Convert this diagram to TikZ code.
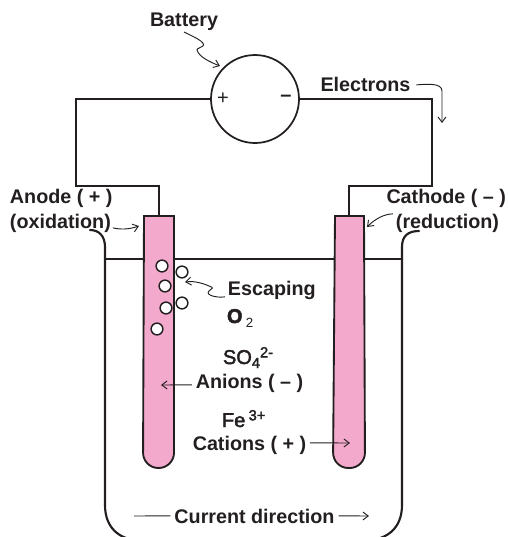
\documentclass[tikz,border=0pt]{standalone}
\usepackage{fontspec}
\setmainfont{Liberation Sans}
\newfontfamily\semib[FakeBold=2.2]{Liberation Sans}
\usetikzlibrary{arrows.meta}
\definecolor{rodpink}{HTML}{F3A9CB}
\definecolor{ink}{HTML}{231F20}
\tikzset{
  wire/.style={draw=ink,line width=1.6pt,line join=miter},
  rod/.style={draw=ink,line width=1.4pt,fill=rodpink},
  lab/.style={inner sep=0pt,outer sep=0pt,yshift=-1.4pt,text=ink,font=\bfseries\fontsize{14.8}{16}\selectfont},
  chem/.style={inner sep=0pt,outer sep=0pt,text=ink,font=\semib\fontsize{15}{16}\selectfont},
  pointer/.style={draw=ink,line width=0.7pt,-{Straight Barb[length=4pt,width=6pt,line width=0.7pt]}},
  plainline/.style={draw=ink,line width=0.7pt},
  bubble/.style={circle,draw=ink,line width=1.1pt,fill=white,minimum size=8.8pt,inner sep=0pt},
}
\begin{document}
\begin{tikzpicture}[x=0.75pt,y=-0.75pt]
\useasboundingbox (0,0) rectangle (508,537);
\clip (0,0) rectangle (508,537);
% water line and beaker
\coordinate (wl) at (105,259);
\coordinate (wr) at (402,259);
\draw[wire] (wl) -- (wr);
\draw[wire,line cap=round] (90,230) .. controls (99,230) and (105,236) .. (105,247)
  -- (105,505) .. controls (105,524) and (115,537) .. (134,540)
  -- (372,540) .. controls (392,537) and (402,524) .. (402,505)
  -- (402,247) .. controls (402,236) and (408,231) .. (419,231);
% electrodes
\coordinate (atop) at (159,216);
\coordinate (ctop) at (349,216);
\draw[rod] (144,216) [rounded corners=11.5pt] -- (143,468) -- (174,468) [sharp corners] -- (174,216) -- cycle;
\draw[rod] (335,216) [rounded corners=11.5pt] -- (333,468) -- (365,468) [sharp corners] -- (364,216) -- cycle;
% battery
\node[circle,draw=ink,line width=1.3pt,minimum size=66pt,inner sep=0pt] (bat) at (255,99) {};
\node[inner sep=0pt,text=ink,font=\fontsize{15}{16}\selectfont] (plus) at (223,99) {+};
\node[inner sep=0pt,text=ink,font=\bfseries\fontsize{15}{16}\selectfont] (minus) at (286,98) {–};
% wires
\coordinate (w1) at (76,99);
\coordinate (w2) at (76,186);
\coordinate (w3) at (159,186);
\coordinate (w4) at (432,99);
\coordinate (w5) at (432,186);
\coordinate (w6) at (349,186);
\draw[wire] (bat.west) -- (w1) -- (w2) -- (w3) -- (atop);
\draw[wire] (bat.east) -- (w4) -- (w5) -- (w6) -- (ctop);
% bubbles
\node[bubble] at (162,266) {};
\node[bubble] at (165,286) {};
\node[bubble] at (166,308) {};
\node[bubble] at (157,329) {};
\node[bubble] at (182,272) {};
\node[bubble] at (182,303) {};
% labels
\node[lab] (battery) at (184,20) {Battery};
\node[lab] (electrons) at (365.5,83) {Electrons};
\node[lab,anchor=west] (anode) at (10,197) {Anode ( + )};
\node[lab,anchor=west] (oxid) at (10,222) {(oxidation)};
\node[lab,anchor=east] (cathode) at (506,197) {Cathode ( – )};
\node[lab,anchor=east] (reduc) at (499,222) {(reduction)};
\node[lab,anchor=west] (escaping) at (228,289) {Escaping};
\node[chem,anchor=base west] (otwo) at (227,323) {{\bfseries O}\,\raisebox{-3pt}{\fontsize{10}{10}\selectfont\rmfamily 2}};
\node[chem,anchor=base west] (so) at (223,364) {SO\raisebox{-3pt}{\fontsize{11}{11}\selectfont 4}\raisebox{5pt}{\fontsize{11}{11}\selectfont 2-}};
\node[lab] (anions) at (249.5,382) {Anions ( – )};
\node[chem,anchor=base west] (fe) at (222,427) {Fe\,\raisebox{5pt}{\fontsize{11}{11}\selectfont 3+}};
\node[lab] (cations) at (249.5,444) {Cations ( + )};
\node[lab] (current) at (254.5,515) {Current direction};
% pointers
\coordinate (p1) at (220,66);
\coordinate (p2) at (442,123);
\coordinate (p3) at (139,226);
\coordinate (p4) at (367,227);
\coordinate (p5) at (185,282);
\coordinate (p6) at (161,385);
\coordinate (p7) at (350,443);
\coordinate (p8) at (134,516);
\coordinate (p9) at (369,516);
\draw[pointer] (184,32) .. controls (194,37) and (206,42) .. (203,46) .. controls (201,48) and (197,48) .. (197,50) .. controls (199,57) and (210,62) .. (p1);
\draw[pointer] (electrons.east) ++(6,0) .. controls (428,84) and (442,83) .. (442,91) -- (p2);
\draw[pointer] (oxid.east) ++(2,4) .. controls (122,230) and (130,229) .. (p3);
\draw[pointer] (reduc.west) ++(-3,-10) .. controls (384,214) and (375,219) .. (p4);
\draw[pointer] (escaping.west) ++(-3,6) .. controls (216,298) and (205,295) .. (209,291) .. controls (212,288) and (215,288) .. (209,286) .. controls (200,282) and (192,281) .. (p5);
\draw[pointer] (anions.west) ++(-4,1) -- (p6);
\draw[pointer] (cations.east) ++(4,-3) -- (p7);
\draw[plainline] (current.west) ++(-4,-1) -- (p8);
\draw[pointer] (current.east) ++(4,-1) -- (p9);
\end{tikzpicture}
\end{document}
